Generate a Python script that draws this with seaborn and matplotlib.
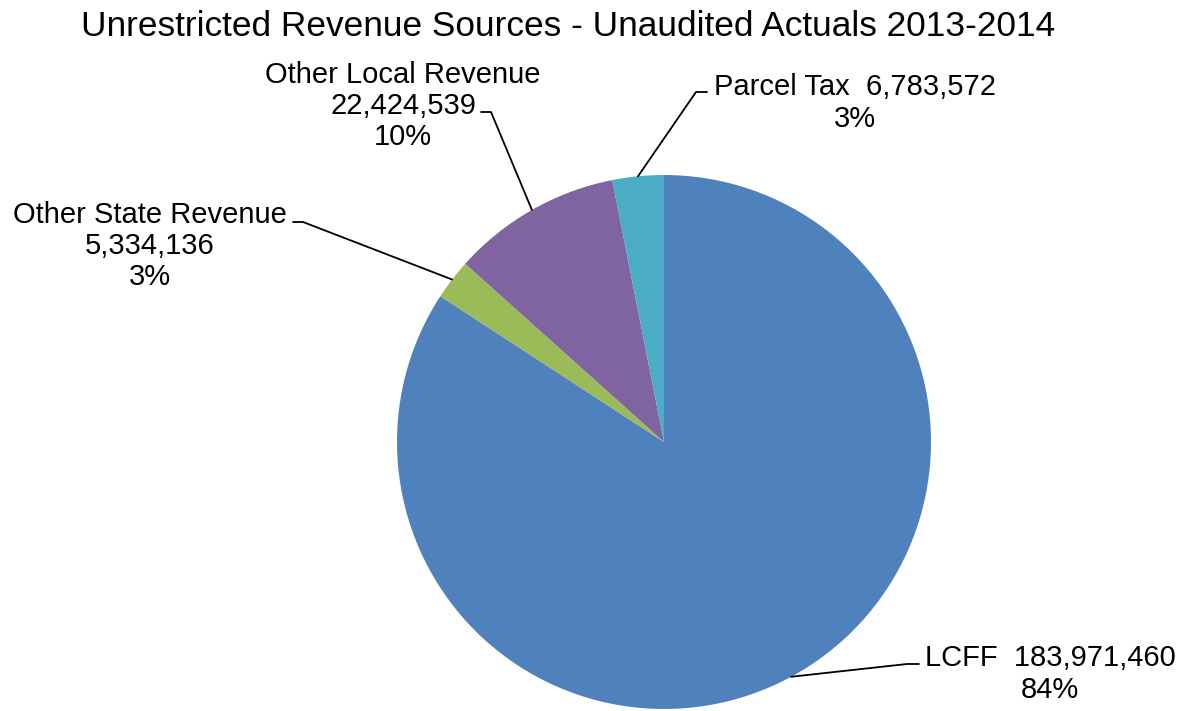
import matplotlib
matplotlib.use('Agg')
import matplotlib.pyplot as plt
import numpy as np
import seaborn as sns

# Data
sources = ['LCFF', 'Other State Revenue', 'Other Local Revenue', 'Parcel Tax']
amounts = [183971460, 5334136, 22424539, 6783572]
pct_labels = [84, 3, 10, 3]  # as printed on the chart
colors = ['#4F81BD', '#9BBB59', '#8064A2', '#4BACC6']

sns.set_theme(style='white')
plt.rcParams['font.family'] = ['Liberation Sans', 'DejaVu Sans']

W, H = 1181, 711
fig = plt.figure(figsize=(W / 100, H / 100), dpi=100)
ax = fig.add_axes([0, 0, 1, 1])

# pie center / radius in pixels
cx, cy, R = 664, 442, 267

def px(x, y):
    # pixel (from top-left) -> data coords
    return (x - cx) / R, (cy - y) / R

wedges, _ = ax.pie(amounts, colors=colors, startangle=90, counterclock=False,
                   radius=1, wedgeprops=dict(linewidth=0))

# pie() resets the limits, so set them afterwards
ax.set_xlim(-cx / R, (W - cx) / R)
ax.set_ylim(-(H - cy) / R, cy / R)
ax.set_aspect('equal')
ax.axis('off')

fmt = lambda v: f'{v:,}'
label_texts = [
    f'LCFF  {fmt(amounts[0])}\n{pct_labels[0]}%',
    f'Other State Revenue\n{fmt(amounts[1])}\n{pct_labels[1]}%',
    f'Other Local Revenue\n{fmt(amounts[2])}\n{pct_labels[2]}%',
    f'Parcel Tax  {fmt(amounts[3])}\n{pct_labels[3]}%',
]
# label placement (pixels): text center, elbow, line end
label_pos = [(1050, 674), (150, 246), (403, 106), (855, 103)]
elbows = [((907, 664), (919, 664)), ((303, 222), (293, 222)),
          ((491, 112), (481, 112)), ((696, 92), (707, 92))]

for w, txt, pos, (elb, end) in zip(wedges, label_texts, label_pos, elbows):
    ang = np.deg2rad((w.theta1 + w.theta2) / 2)
    x0, y0 = np.cos(ang), np.sin(ang)
    ex, ey = px(*elb)
    nx, ny = px(*end)
    ax.plot([x0, ex, nx], [y0, ey, ny], color='black', lw=1.3)
    tx, ty = px(*pos)
    ax.text(tx, ty, txt, ha='center', va='center', multialignment='center',
            fontsize=21, color='black', linespacing=1.15)

fig.text(568 / W, 1 - 26 / H, 'Unrestricted Revenue Sources - Unaudited Actuals 2013-2014',
         ha='center', va='center', fontsize=25.4, color='black')

fig.savefig('out.png', dpi=100)
